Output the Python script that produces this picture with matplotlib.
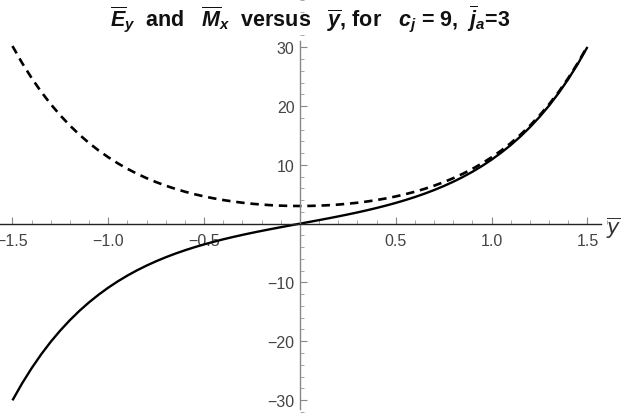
import matplotlib
matplotlib.use("Agg")
import matplotlib.pyplot as plt
from matplotlib.ticker import MultipleLocator, FixedLocator

plt.rcParams['font.family'] = ['Liberation Sans', 'DejaVu Sans']
plt.rcParams['mathtext.fontset'] = 'custom'
plt.rcParams['mathtext.it'] = 'Liberation Sans:bold:italic'
plt.rcParams['mathtext.rm'] = 'Liberation Sans:bold'
plt.rcParams['mathtext.bf'] = 'Liberation Sans:bold'

# data (positive half; curves are odd / even in y)
y_pos = [0.05, 0.1, 0.15, 0.2, 0.25, 0.3, 0.35, 0.4, 0.45, 0.5, 0.55, 0.6, 0.65, 0.7, 0.75,
         0.8, 0.85, 0.9, 0.95, 1.0, 1.05, 1.1, 1.15, 1.2, 1.25, 1.3, 1.35, 1.4, 1.45, 1.5]
E_pos = [0.30, 0.604, 0.914, 1.232, 1.563, 1.910, 2.276, 2.664, 3.080, 3.526, 4.007, 4.529,
         5.095, 5.713, 6.388, 7.127, 7.937, 8.827, 9.805, 10.88, 12.07, 13.37, 14.81, 16.40,
         18.15, 20.08, 22.22, 24.58, 27.18, 30.05]
M_pos = [3.015, 3.060, 3.136, 3.243, 3.383, 3.556, 3.766, 4.012, 4.299, 4.629, 5.006, 5.432,
         5.913, 6.453, 7.057, 7.733, 8.485, 9.322, 10.25, 11.29, 12.43, 13.70, 15.11, 16.67,
         18.40, 20.31, 22.42, 24.76, 27.34, 30.20]
E_zero = 0.0
M_zero = 3.0

y_bar = [-v for v in y_pos[::-1]] + [0.0] + y_pos
E_y = [-v for v in E_pos[::-1]] + [E_zero] + E_pos
M_x = M_pos[::-1] + [M_zero] + M_pos

x_ticks = [-1.5, -1.0, -0.5, 0.5, 1.0, 1.5]
x_labels = ['\u22121.5', '\u22121.0', '\u22120.5', '0.5', '1.0', '1.5']
y_ticks = [-30, -20, -10, 10, 20, 30]
y_labels = ['\u221230', '\u221220', '\u221210', '10', '20', '30']

fig = plt.figure(figsize=(6.21, 4.14), dpi=100)
ax = fig.add_axes([0, 0, 1, 1])
ax.patch.set_alpha(0)

ax.plot(y_bar, E_y, color='black', lw=1.7, solid_capstyle='butt')
ax.plot(y_bar, M_x, color='black', lw=1.9, linestyle=(0, (3.2, 2.2)))

ax.set_xlim(-1.565, 1.675)
ax.set_ylim(-32.2, 38.2)

for s in ['top', 'right']:
    ax.spines[s].set_visible(False)
ax.spines['left'].set_position(('data', 0))
ax.spines['bottom'].set_position(('data', 0))
ax.spines['left'].set_bounds(-31.5, 31.0)
ax.spines['bottom'].set_bounds(-1.565, 1.57)
ax.spines['left'].set_color('#888888')
ax.spines['bottom'].set_color('#222222')
ax.spines['left'].set_linewidth(1.0)
ax.spines['bottom'].set_linewidth(1.0)

ax.xaxis.set_major_locator(FixedLocator(x_ticks))
ax.set_xticklabels(x_labels)
ax.xaxis.set_minor_locator(MultipleLocator(0.1))
ax.yaxis.set_major_locator(FixedLocator(y_ticks))
ax.set_yticklabels(y_labels)
ax.yaxis.set_minor_locator(MultipleLocator(2))

ax.tick_params(axis='x', which='major', direction='in', length=5, width=0.8, color='#888888',
               labelsize=11.5, labelcolor='#444444', pad=7)
ax.tick_params(axis='x', which='minor', direction='in', length=3, width=0.6, color='#999999')
ax.tick_params(axis='y', which='major', direction='in', length=5, width=0.8, color='#888888',
               labelsize=11.5, labelcolor='#444444', pad=4)
ax.tick_params(axis='y', which='minor', direction='in', length=3, width=0.6, color='#999999')

ax.text(1.597, -0.6, r'$\overline{y}$', fontsize=15, ha='left', va='center',
        color='#333333', math_fontfamily='dejavusans')

fig.text(0.5, 1 - 19 / 414,
         r'$\overline{E}_{y}$  and   $\overline{M}_{x}$  versus   $\overline{y}$, for   $c_{j}$ = 9,  $\overline{j}_{a}$=3',
         ha='center', va='center', fontsize=15.5, fontweight='bold', color='#111111')

fig.savefig('out.png', dpi=100)
